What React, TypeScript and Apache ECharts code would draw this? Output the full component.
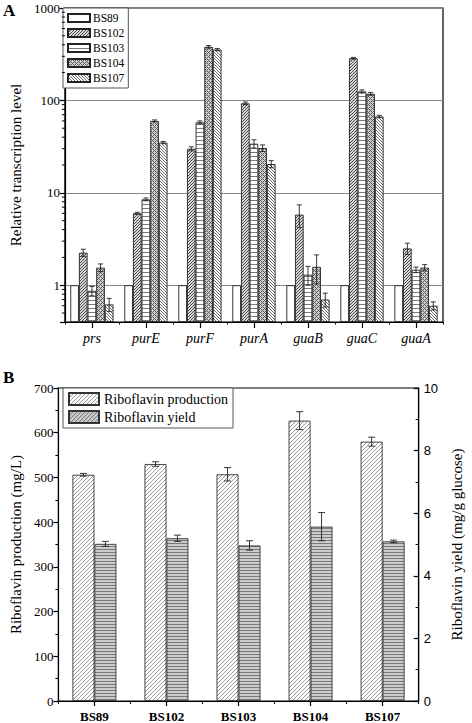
import React, { useEffect, useRef } from 'react';
import * as echarts from 'echarts';

// ---------- Panel A data ----------
const genes = ['prs', 'purE', 'purF', 'purA', 'guaB', 'guaC', 'guaA'];
const strainsA = ['BS89', 'BS102', 'BS103', 'BS104', 'BS107'];
const bs89 = [1, 1, 1, 1, 1, 1, 1];
const bs89Err = [0, 0, 0, 0, 0, 0, 0];
const bs102 = [2.25, 6.0, 30, 93, 5.8, 286, 2.5];
const bs102Err = [0.2, 0.15, 1.5, 3, 1.6, 6, 0.35];
const bs103 = [0.87, 8.5, 58, 34, 1.3, 125, 1.47];
const bs103Err = [0.1, 0.3, 2, 3.5, 0.3, 5, 0.1];
const bs104 = [1.55, 60, 380, 30.5, 1.58, 118, 1.55];
const bs104Err = [0.15, 1.5, 12, 2.5, 0.55, 4, 0.12];
const bs107 = [0.62, 35, 355, 20.5, 0.7, 67, 0.6];
const bs107Err = [0.1, 1, 10, 1.8, 0.12, 2, 0.06];
const minorTicksA = [0.5, 0.6, 0.7, 0.8, 0.9, 2, 3, 4, 5, 6, 7, 8, 9, 20, 30, 40, 50, 60, 70, 80, 90, 200, 300, 400, 500, 600, 700, 800, 900];

// ---------- Panel B data ----------
const strainsB = ['BS89', 'BS102', 'BS103', 'BS104', 'BS107'];
const seriesB = ['Riboflavin production', 'Riboflavin yield'];
const production = [506, 530, 507, 627, 580];
const productionErr = [3, 5, 15, 20, 10];
const yieldVals = [5.02, 5.2, 4.97, 5.57, 5.1];
const yieldErr = [0.08, 0.1, 0.15, 0.45, 0.04];

const SERIF = "'Liberation Serif', 'DejaVu Serif', serif";
const SANS = "'Liberation Sans', 'DejaVu Sans', sans-serif";

type Kind = 'slash' | 'back' | 'hline' | 'cross';
function makePattern(s: number, bg: string, fg: string, kind: Kind) {
  const c = document.createElement('canvas');
  c.width = s;
  c.height = s;
  const ctx = c.getContext('2d') as CanvasRenderingContext2D;
  ctx.fillStyle = bg;
  ctx.fillRect(0, 0, s, s);
  ctx.fillStyle = fg;
  for (let x = 0; x < s; x++) {
    for (let y = 0; y < s; y++) {
      let on = false;
      if (kind === 'slash') on = (x + y) % s === 0;
      if (kind === 'back') on = (x - y + s) % s === 0;
      if (kind === 'hline') on = y === 0;
      if (kind === 'cross') on = (x + y) % s === 0 || (x - y + s) % s === 0;
      if (on) ctx.fillRect(x, y, 1, 1);
    }
  }
  return { image: c.toDataURL(), repeat: 'repeat', imageWidth: s, imageHeight: s } as any;
}

function errorSeries(values: number[], errs: number[], idx: number, n: number, gapFrac: number, xAxisIndex: number, yAxisIndex: number, cap: number) {
  return {
    type: 'custom',
    xAxisIndex,
    yAxisIndex,
    silent: true,
    z: 10,
    clip: false,
    data: values.map((v, i) => [i, v, errs[i]]),
    encode: { x: 0, y: 1 },
    renderItem: (params: any, api: any) => {
      const i = api.value(0);
      const v = api.value(1);
      const e = api.value(2);
      if (!e) return null;
      const band = api.coord([1, v])[0] - api.coord([0, v])[0];
      const bw = (band * (1 - gapFrac)) / n;
      const off = (idx - (n - 1) / 2) * bw;
      const hi = api.coord([i, v + e]);
      const lo = api.coord([i, v - e]);
      const x = hi[0] + off;
      const st = { stroke: '#222', lineWidth: 0.9 };
      return {
        type: 'group',
        children: [
          { type: 'line', shape: { x1: x, y1: hi[1], x2: x, y2: lo[1] }, style: st },
          { type: 'line', shape: { x1: x - cap, y1: hi[1], x2: x + cap, y2: hi[1] }, style: st },
          { type: 'line', shape: { x1: x - cap, y1: lo[1], x2: x + cap, y2: lo[1] }, style: st },
        ],
      };
    },
  };
}

export default function App() {
  const ref = useRef<HTMLDivElement>(null);
  useEffect(() => {
    if (!ref.current) return;
    const chart = echarts.init(ref.current, null, { renderer: 'svg' });

    const patA = [
      '#ffffff',
      makePattern(3, '#d8d8d8', '#4a4a4a', 'slash'),
      makePattern(4, '#ffffff', '#7a7a7a', 'hline'),
      makePattern(4, '#d0d0d0', '#5a5a5a', 'cross'),
      makePattern(3, '#ffffff', '#6a6a6a', 'back'),
    ];
    const prodPat = makePattern(4, '#ffffff', '#9a9a9a', 'slash');
    const yieldPat = makePattern(3, '#cccccc', '#7a7a7a', 'hline');
    const yieldLegendPat = makePattern(4, '#c8c8c8', '#7a7a7a', 'slash');

    const valsA = [bs89, bs102, bs103, bs104, bs107];
    const errsA = [bs89Err, bs102Err, bs103Err, bs104Err, bs107Err];

    const barsA = strainsA.map((name, k) => ({
      name,
      type: 'bar',
      xAxisIndex: 0,
      yAxisIndex: 0,
      barGap: '0%',
      barCategoryGap: '20%',
      data: valsA[k],
      itemStyle: { color: patA[k], borderColor: '#222', borderWidth: 0.9 },
    }));
    const errA = strainsA.map((_, k) => errorSeries(valsA[k], errsA[k], k, 5, 0.2, 0, 0, 2.5));

    const minorA = {
      type: 'custom',
      xAxisIndex: 0,
      yAxisIndex: 0,
      silent: true,
      clip: false,
      z: 10,
      data: minorTicksA.map((v) => [0, v]),
      encode: { x: 0, y: 1 },
      renderItem: (params: any, api: any) => {
        const p = api.coord([0, api.value(1)]);
        const x0 = params.coordSys.x;
        return { type: 'line', shape: { x1: x0 - 3, y1: p[1], x2: x0, y2: p[1] }, style: { stroke: '#000', lineWidth: 1 } };
      },
    };

    const barsB = [
      {
        name: seriesB[0],
        type: 'bar',
        xAxisIndex: 2,
        yAxisIndex: 1,
        barGap: '0%',
        barCategoryGap: '39%',
        data: production,
        itemStyle: { color: prodPat, borderColor: '#333', borderWidth: 0.9 },
      },
      {
        name: seriesB[1],
        type: 'bar',
        xAxisIndex: 2,
        yAxisIndex: 2,
        barGap: '0%',
        barCategoryGap: '39%',
        data: yieldVals,
        itemStyle: { color: yieldPat, borderColor: '#333', borderWidth: 0.9 },
      },
    ];
    const errB = [
      errorSeries(production, productionErr, 0, 2, 0.39, 2, 1, 3.5),
      errorSeries(yieldVals, yieldErr, 1, 2, 0.39, 2, 2, 3.5),
    ];

    const axisLine = { show: true, lineStyle: { color: '#000', width: 1.2 } };

    const option: any = {
      animation: false,
      backgroundColor: '#fff',
      graphic: [
        { type: 'text', left: 3, top: 2, style: { text: 'A', font: `bold 17px ${SERIF}`, fill: '#000' } },
        { type: 'text', left: 3, top: 369, style: { text: 'B', font: `bold 17px ${SERIF}`, fill: '#000' } },
      ],
      legend: [
        {
          data: strainsA,
          orient: 'vertical',
          left: 63,
          top: 8,
          itemWidth: 22,
          itemHeight: 8,
          itemGap: 3,
          icon: 'rect',
          borderColor: '#555',
          borderWidth: 1,
          padding: [4, 4, 4, 4],
          backgroundColor: '#fff',
          textStyle: { fontFamily: SERIF, fontSize: 11.5, color: '#000', padding: [0, 0, 0, -2] },
        },
        {
          data: [
            { name: seriesB[0] },
            { name: seriesB[1], itemStyle: { color: yieldLegendPat } },
          ],
          orient: 'vertical',
          left: 63,
          top: 388,
          itemWidth: 30,
          itemHeight: 12,
          itemGap: 4,
          icon: 'rect',
          borderColor: '#555',
          borderWidth: 1,
          padding: [4, 5, 4, 5],
          backgroundColor: '#fff',
          textStyle: { fontFamily: SERIF, fontSize: 14, color: '#000' },
        },
      ],
      grid: [
        { left: 57, top: 8, width: 386, height: 314, show: true, borderColor: '#000', borderWidth: 1.2, backgroundColor: 'transparent' },
        { left: 58, top: 388, width: 385, height: 314, show: true, borderColor: '#000', borderWidth: 1.2, backgroundColor: 'transparent' },
      ],
      xAxis: [
        {
          type: 'category',
          gridIndex: 0,
          data: genes,
          axisLine,
          axisTick: { show: true, alignWithLabel: true, length: 6, lineStyle: { color: '#000', width: 1.2 } },
          axisLabel: { fontFamily: SERIF, fontStyle: 'italic', fontSize: 14, color: '#000', margin: 9 },
        },
        {
          type: 'category',
          gridIndex: 0,
          data: genes,
          position: 'bottom',
          axisLine: { show: false },
          axisTick: { show: true, length: 2.5, lineStyle: { color: '#000', width: 1 } },
          axisLabel: { show: false },
        },
        {
          type: 'category',
          gridIndex: 1,
          data: strainsB,
          axisLine,
          axisTick: { show: true, alignWithLabel: true, length: 5, lineStyle: { color: '#000', width: 1.2 } },
          axisLabel: { fontFamily: SERIF, fontWeight: 'bold', fontSize: 13, color: '#000', margin: 9 },
        },
        {
          type: 'category',
          gridIndex: 1,
          data: strainsB,
          position: 'bottom',
          axisLine: { show: false },
          axisTick: { show: true, length: 3, lineStyle: { color: '#000', width: 1 } },
          axisLabel: { show: false },
        },
      ],
      yAxis: [
        {
          type: 'log',
          gridIndex: 0,
          logBase: 10,
          min: 0.4,
          max: 1000,
          startValue: 0.4,
          name: 'Relative transcription level',
          nameLocation: 'middle',
          nameGap: 31,
          nameTextStyle: { fontFamily: SERIF, fontSize: 15, color: '#000' },
          axisLine,
          axisTick: { show: true, length: 5, lineStyle: { color: '#000', width: 1.2 } },
          splitLine: { show: true, lineStyle: { color: '#888', width: 1 } },
          axisLabel: {
            fontFamily: SERIF,
            fontSize: 13,
            color: '#000',
            margin: 5,
            formatter: (v: number) => {
              const l = Math.log10(v);
              return Math.abs(l - Math.round(l)) < 1e-6 ? String(Math.round(v)) : '';
            },
          },
        },
        {
          type: 'value',
          gridIndex: 1,
          min: 0,
          max: 700,
          interval: 100,
          name: 'Riboflavin production (mg/L)',
          nameLocation: 'middle',
          nameGap: 31,
          nameTextStyle: { fontFamily: SERIF, fontSize: 15, color: '#000' },
          axisLine,
          axisTick: { show: true, length: 5, lineStyle: { color: '#000', width: 1.2 } },
          minorTick: { show: true, splitNumber: 2, length: 3, lineStyle: { color: '#000', width: 1 } },
          splitLine: { show: false },
          axisLabel: { fontFamily: SERIF, fontSize: 13, color: '#000', margin: 5 },
        },
        {
          type: 'value',
          gridIndex: 1,
          position: 'right',
          min: 0,
          max: 10,
          interval: 2,
          name: 'Riboflavin yield (mg/g glucose)',
          nameLocation: 'middle',
          nameRotate: 90,
          nameGap: 15,
          nameTextStyle: { fontFamily: SERIF, fontSize: 15, color: '#000' },
          axisLine,
          axisTick: { show: true, inside: true, length: 5, lineStyle: { color: '#000', width: 1.2 } },
          minorTick: { show: true, splitNumber: 2, length: 3, lineStyle: { color: '#000', width: 1 } },
          splitLine: { show: false },
          axisLabel: { fontFamily: SANS, fontSize: 13, color: '#000', margin: 5 },
        },
      ],
      series: [...barsA, ...errA, minorA, ...barsB, ...errB],
    };
    chart.setOption(option);
    return () => chart.dispose();
  }, []);
  return <div ref={ref} style={{ position: 'absolute', left: 0, top: 0, width: 472, height: 723 }} />;
}
